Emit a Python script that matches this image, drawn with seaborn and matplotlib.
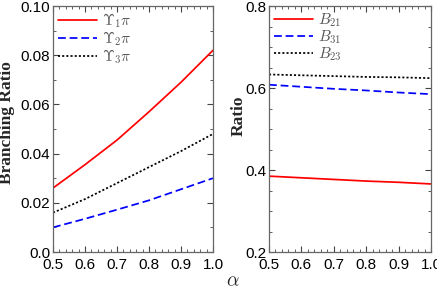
import numpy as np
import pandas as pd
import matplotlib
matplotlib.use("Agg")
import matplotlib.pyplot as plt
import seaborn as sns
from matplotlib.ticker import MultipleLocator, FuncFormatter

alpha = [0.5, 0.6, 0.7, 0.8, 0.9, 1.0]
ups1 = [0.026, 0.0355, 0.0455, 0.057, 0.069, 0.082]
ups2 = [0.010, 0.0135, 0.0172, 0.021, 0.0255, 0.030]
ups3 = [0.016, 0.0215, 0.028, 0.0345, 0.041, 0.048]
b21 = [0.385, 0.381, 0.377, 0.373, 0.370, 0.366]
b31 = [0.608, 0.603, 0.598, 0.594, 0.589, 0.585]
b23 = [0.633, 0.631, 0.629, 0.627, 0.626, 0.624]

left_labels = [r"$\Upsilon_1\pi$", r"$\Upsilon_2\pi$", r"$\Upsilon_3\pi$"]
right_labels = [r"$B_{21}$", r"$B_{31}$", r"$B_{23}$"]

sns.set_style("ticks")
plt.rcParams["font.family"] = ["Liberation Sans", "DejaVu Sans"]
plt.rcParams["mathtext.fontset"] = "cm"

fig = plt.figure(figsize=(4.37, 2.9), dpi=100)
ax1 = fig.add_axes([53/437, 1-252/290, 160/437, 246/290])
ax2 = fig.add_axes([269/437, 1-252/290, 162/437, 246/290])

styles = [("red", "-"), ("blue", (0, (4.5, 2.2))), ("black", (0, (1.2, 1.2)))]

for ys, lab, (c, ls) in zip([ups1, ups2, ups3], left_labels, styles):
    sns.lineplot(x=alpha, y=ys, ax=ax1, color=c, linestyle=ls, linewidth=1.25, label=lab)
for ys, lab, (c, ls) in zip([b21, b31, b23], right_labels, styles):
    sns.lineplot(x=alpha, y=ys, ax=ax2, color=c, linestyle=ls, linewidth=1.25, label=lab)

ax1.set_xlim(0.5, 1.0)
ax1.set_ylim(0.0, 0.10)
ax2.set_xlim(0.5, 1.0)
ax2.set_ylim(0.2, 0.8)

ax1.yaxis.set_major_locator(MultipleLocator(0.02))
ax1.yaxis.set_minor_locator(MultipleLocator(0.01))
ax1.yaxis.set_major_formatter(FuncFormatter(lambda v, p: "0.0" if abs(v) < 1e-9 else f"{v:.2f}"))
ax2.yaxis.set_major_locator(MultipleLocator(0.2))
ax2.yaxis.set_minor_locator(MultipleLocator(0.05))
ax2.yaxis.set_major_formatter(FuncFormatter(lambda v, p: f"{v:.1f}"))
for ax in (ax1, ax2):
    ax.xaxis.set_major_locator(MultipleLocator(0.1))
    ax.xaxis.set_minor_locator(MultipleLocator(0.02))
    ax.xaxis.set_major_formatter(FuncFormatter(lambda v, p: f"{v:.1f}"))
    ax.tick_params(which="both", direction="in", top=True, right=True, labelsize=11,
                   colors="#444444", labelcolor="black")
    ax.tick_params(which="major", length=4, width=0.8)
    ax.tick_params(which="minor", length=2.5, width=0.6)
    ax.tick_params(axis="y", which="major", pad=2)
    ax.tick_params(axis="x", which="major", pad=4)
    for s in ax.spines.values():
        s.set_color("#666666")
        s.set_linewidth(0.9)
    leg = ax.legend(loc="upper left", frameon=False, fontsize=11, handlelength=2.5,
                    borderaxespad=0.0, borderpad=0.35, labelspacing=-0.05, handletextpad=0.35)
    for t in leg.get_texts():
        t.set_color("#555555")
    ax.set_xlabel("")

ax1.set_ylabel("Branching Ratio", family=["Liberation Serif", "DejaVu Serif"], fontweight="bold", fontsize=12.5)
ax2.set_ylabel("Ratio", family=["Liberation Serif", "DejaVu Serif"], fontweight="bold", fontsize=12.5)
ax1.yaxis.set_label_coords(-0.235, 0.525)
ax2.yaxis.set_label_coords(-0.14, 0.555)
fig.text(233/437, 1-282/290, r"$\alpha$", ha="center", va="center", fontsize=14)

fig.savefig("out.png", dpi=100)
